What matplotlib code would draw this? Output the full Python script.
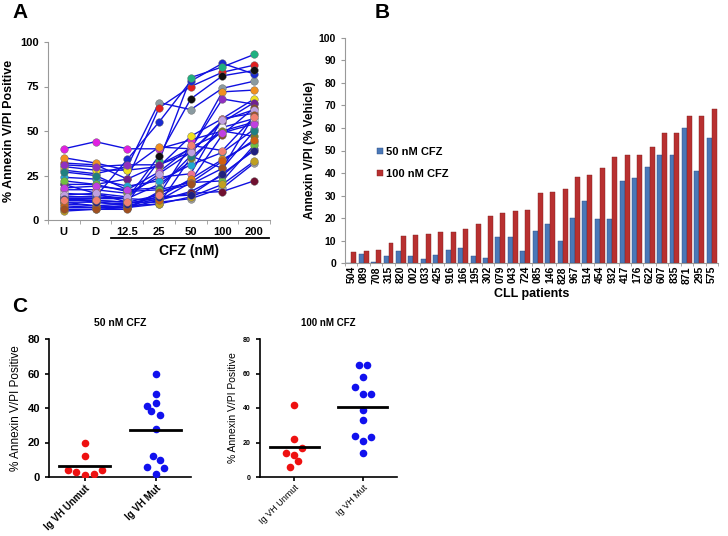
import matplotlib
matplotlib.use("Agg")
from matplotlib import pyplot as plt
import numpy as np

W, H = 728, 536

# panel A: % annexin V/PI per patient over treatment
doses = ["U", "D", "12.5", "25", "50", "100", "200"]
patients_a = [
    [40, 44, 40, 40, 45, 50, 55],
    [28, 26, 30, 66, 62, 74, 78],
    [32, 31, 23, 63, 75, 83, 87],
    [13, 13, 34, 55, 78, 88, 82],
    [20, 15, 10, 33, 80, 86, 93],
    [12, 12, 12, 36, 68, 81, 84],
    [35, 32, 28, 41, 40, 72, 73],
    [30, 28, 28, 30, 47, 57, 68],
    [31, 30, 31, 31, 40, 68, 65],
    [20, 20, 23, 31, 38, 55, 66],
    [10, 8, 7, 15, 22, 48, 63],
    [17, 17, 15, 24, 26, 57, 60],
    [15, 14, 12, 20, 33, 52, 57],
    [24, 23, 19, 22, 31, 38, 51],
    [10, 10, 8, 9, 35, 50, 47],
    [9, 8, 9, 13, 23, 34, 44],
    [13, 13, 12, 11, 16, 25, 40],
    [27, 25, 17, 18, 36, 29, 50],
    [12, 11, 10, 10, 12, 18, 32],
    [7, 7, 8, 12, 15, 16, 22],
    [22, 20, 16, 17, 21, 22, 42],
    [5, 6, 7, 9, 13, 20, 33],
    [18, 19, 17, 27, 41, 49, 54],
    [8, 7, 7, 11, 21, 33, 45],
    [14, 15, 13, 26, 38, 56, 62],
    [6, 6, 6, 16, 20, 29, 59],
    [12, 10, 9, 13, 14, 26, 39],
    [11, 11, 10, 14, 42, 39, 58],
]
marker_colors = ["#e020e0", "#8a9aa0", "#e02020", "#1a2ad0", "#20b080", "#101010",
                 "#f09020", "#f0e020", "#9030c0", "#702090", "#8a4a20", "#f07090",
                 "#f4f4f4", "#20a8d0", "#808020", "#e08010", "#2030e0", "#208080",
                 "#a0a0a0", "#701030", "#70c040", "#c0a020", "#c040e0", "#d06010",
                 "#c0a0e0", "#a05020", "#202080", "#f08070"]

# panel B
cll_ids = ["504", "089", "708", "315", "820", "002", "033", "425", "916", "166",
           "195", "302", "079", "043", "724", "085", "146", "828", "967", "514",
           "454", "932", "417", "176", "622", "607", "835", "871", "295", "575"]
cfz50 = [0, 4.0, 0.6, 3.4, 5.6, 3.4, 1.9, 3.5, 5.8, 6.8, 3.2, 2.5, 11.5, 11.7, 5.3,
         14.2, 17.6, 9.7, 20.1, 27.6, 19.8, 19.8, 36.3, 38.0, 42.5, 47.9, 47.9,
         59.8, 40.8, 55.4]
cfz100 = [4.9, 5.5, 5.9, 8.9, 12.1, 12.4, 13.1, 13.7, 13.9, 15.2, 17.3, 21.0, 22.2,
          23.2, 23.8, 31.3, 31.6, 32.8, 38.1, 39.3, 42.4, 47.0, 48.0, 48.0, 51.7,
          57.6, 57.6, 65.4, 65.4, 68.5]

# panel C
groups = ["Ig VH Unmut", "Ig VH Mut"]
unmut_50 = [20, 12, 4, 3, 1, 2, 4]
mut_50 = [60, 48, 43, 41, 38, 36, 28, 12, 10, 6, 5, 2]
unmut_100 = [42, 22, 17, 14, 13, 9, 6]
mut_100 = [65, 65, 58, 52, 48, 48, 39, 33, 24, 23, 21, 14]
jit_unmut_50 = [0, 0, -0.23, -0.12, 0, 0.13, 0.25]
jit_mut_50 = [0, 0, 0, -0.12, -0.06, 0.06, 0, -0.04, 0.06, -0.12, 0.12, 0]
jit_unmut_100 = [0, 0, 0.12, -0.12, 0, 0.06, -0.06]
jit_mut_100 = [-0.06, 0.06, 0, -0.12, 0, 0.12, 0, 0, -0.12, 0.12, 0, 0]


def px(l, t, r, b):
    return [l / W, 1 - b / H, (r - l) / W, (b - t) / H]


fig = plt.figure(figsize=(W / 100, H / 100), dpi=100)
plt.rcParams["font.family"] = ["Liberation Sans", "DejaVu Sans"]

# ---------- A
axa = fig.add_axes(px(48, 42, 270, 220))
x = np.arange(len(doses))
for vals, c in zip(patients_a, marker_colors):
    axa.plot(x, vals, color="#1010e0", lw=1, zorder=2)
    axa.plot(x, vals, "o", color=c, ms=5.5, mec="#666666", mew=0.3, zorder=3)
axa.set_xlim(-0.5, 6.5)
axa.set_ylim(0, 100)
axa.set_yticks([0, 25, 50, 75, 100])
axa.set_xticks(x)
axa.set_xticklabels(doses, fontweight="bold", fontsize=8)
axa.set_xticks(np.arange(-0.5, 7, 1), minor=True)
axa.tick_params(axis="x", which="major", length=0, pad=5)
axa.tick_params(axis="x", which="minor", length=3, color="#999999")
axa.tick_params(axis="y", length=3, color="#999999", labelsize=8)
for t in axa.get_yticklabels():
    t.set_fontweight("bold")
for s in ["top", "right"]:
    axa.spines[s].set_visible(False)
for s in ["left", "bottom"]:
    axa.spines[s].set_color("#999999")
axa.set_ylabel("% Annexin V/PI Positive", fontweight="bold", fontsize=9,
               labelpad=4)
fig.add_artist(plt.Line2D([111 / W, 269 / W], [1 - 238 / H, 1 - 238 / H],
                          color="black", lw=1.3))
fig.text(189 / W, 1 - 251 / H, "CFZ (nM)", ha="center", va="center",
         fontweight="bold", fontsize=10)

# ---------- B
axb = fig.add_axes(px(345, 37.7, 718, 263.3))
xb = np.arange(len(cll_ids))
bw = 0.4
axb.bar(xb - bw / 2, cfz50, bw, color="#4a78b8", edgecolor="#2a4a80", lw=0.3,
        label="50 nM CFZ")
axb.bar(xb + bw / 2, cfz100, bw, color="#b83030", edgecolor="#802020", lw=0.3,
        label="100 nM CFZ")
axb.set_xlim(-0.5, len(cll_ids) - 0.5)
axb.set_ylim(0, 100)
axb.set_yticks(np.arange(0, 101, 10))
axb.set_xticks(xb)
axb.set_xticklabels(cll_ids, rotation=90, fontweight="bold", fontsize=7.5)
axb.set_xticks(np.arange(-0.5, len(cll_ids), 1), minor=True)
axb.tick_params(axis="x", which="major", length=0, pad=2)
axb.tick_params(axis="x", which="minor", length=2, color="#999999")
axb.tick_params(axis="y", length=3, color="#999999", labelsize=7.5)
for t in axb.get_yticklabels():
    t.set_fontweight("bold")
for s in ["top", "right"]:
    axb.spines[s].set_visible(False)
for s in ["left", "bottom"]:
    axb.spines[s].set_color("#999999")
axb.set_ylabel("Annexin V/PI (% Vehicle)", fontweight="bold", fontsize=8.5,
               labelpad=2)
axb.set_xlabel("CLL patients", fontweight="bold", fontsize=9, labelpad=3)
axb.legend(loc="upper left", bbox_to_anchor=(367 / W, 1 - 137 / H),
           bbox_transform=fig.transFigure, frameon=False, handlelength=0.5,
           handleheight=0.5, handletextpad=0.3, labelspacing=1.1,
           prop={"weight": "bold", "size": 8})


# ---------- C
def dot_panel(rect, unmut, mut, ju, jm, title, small):
    ax = fig.add_axes(rect)
    ax.scatter(np.array(ju), unmut, s=30, color="#ee1111", zorder=3, lw=0)
    ax.scatter(1 + np.array(jm), mut, s=30, color="#1111ee", zorder=3, lw=0)
    for i, v in enumerate([unmut, mut]):
        m = np.mean(v)
        ax.plot([i - 0.36, i + 0.36], [m, m], color="black", lw=2, zorder=4)
    ax.set_xlim(-0.5, 1.5)
    ax.set_ylim(0, 80)
    ax.set_yticks([0, 20, 40, 60, 80])
    ax.set_xticks([0, 1])
    ax.tick_params(length=3, width=1.2)
    ax.tick_params(axis="y", labelsize=5 if small else 8)
    ax.tick_params(axis="x", pad=1.5)
    ax.set_xticklabels(groups, rotation=45, ha="right", rotation_mode="anchor",
                       fontweight="normal" if small else "bold",
                       fontsize=6.5 if small else 7)
    for t in ax.get_yticklabels():
        t.set_fontweight("bold")
    for s in ["top", "right"]:
        ax.spines[s].set_visible(False)
    for s in ["left", "bottom"]:
        ax.spines[s].set_linewidth(1.2)
    ax.set_ylabel("% Annexin V/PI Positive", fontsize=7.5 if small else 8.5,
                  fontweight="normal" if small else "medium")
    ax.set_title(title, fontsize=7 if small else 7.5, fontweight="bold", pad=9)
    return ax


dot_panel(px(49, 339, 191, 477), unmut_50, mut_50, jit_unmut_50, jit_mut_50,
          "50 nM CFZ", False)
dot_panel(px(260, 339, 397, 477), unmut_100, mut_100, jit_unmut_100, jit_mut_100,
          "100 nM CFZ", True)

fig.text(12 / W, 1 - 13 / H, "A", fontsize=15, fontweight="bold", va="center")
fig.text(375 / W, 1 - 13 / H, "B", fontsize=15, fontweight="bold", va="center")
fig.text(12 / W, 1 - 306 / H, "C", fontsize=15, fontweight="bold", va="center")

fig.savefig("out.png", dpi=100)
